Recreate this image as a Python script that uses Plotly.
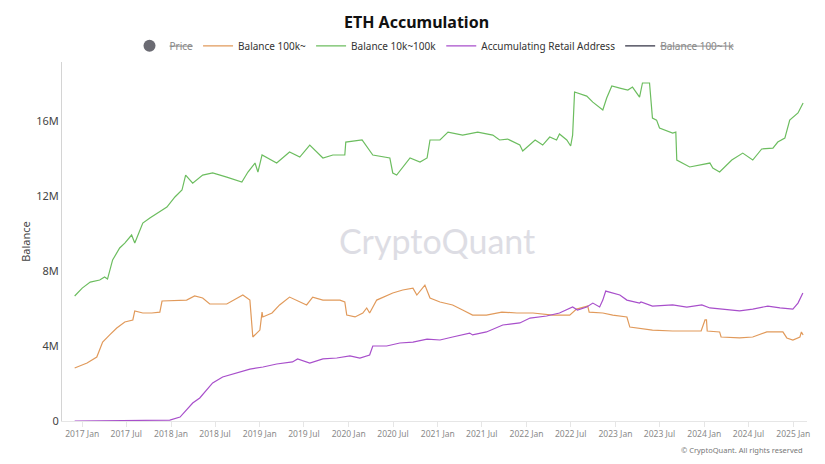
import plotly.graph_objects as go

# ---- data (values in millions) ----
green_dates = ["2016-12-01","2017-01-01","2017-02-03","2017-03-14","2017-04-03","2017-04-15","2017-05-06","2017-06-04","2017-06-25","2017-07-23","2017-08-05","2017-09-07","2017-10-06","2017-11-16","2017-12-15","2018-01-17","2018-02-15","2018-03-02","2018-03-31","2018-05-11","2018-06-21","2018-08-18","2018-10-19","2018-11-13","2018-12-12","2018-12-24","2019-01-10","2019-03-11","2019-05-03","2019-06-14","2019-07-25","2019-09-17","2019-10-28","2019-12-16","2019-12-20","2020-02-25","2020-04-09","2020-06-18","2020-06-30","2020-07-16","2020-09-09","2020-10-20","2020-11-18","2020-11-30","2021-01-10","2021-02-12","2021-04-13","2021-06-14","2021-08-15","2021-09-12","2021-10-15","2021-12-04","2021-12-16","2022-02-05","2022-03-08","2022-04-06","2022-05-04","2022-05-16","2022-06-15","2022-07-01","2022-07-09","2022-07-17","2022-09-05","2022-09-30","2022-11-10","2022-11-26","2022-12-17","2023-01-19","2023-02-21","2023-03-12","2023-04-10","2023-04-22","2023-05-21","2023-06-02","2023-06-19","2023-07-01","2023-08-24","2023-09-06","2023-09-10","2023-11-02","2023-12-13","2024-01-24","2024-02-05","2024-03-04","2024-04-23","2024-06-07","2024-07-18","2024-08-24","2024-10-09","2024-10-29","2024-11-27","2024-12-17","2025-01-20","2025-02-10"]
green_vals = [6.67,7.09,7.41,7.52,7.68,7.57,8.59,9.23,9.49,9.92,9.49,10.56,10.83,11.15,11.41,11.95,12.32,13.12,12.69,13.12,13.23,13.01,12.75,13.28,13.76,13.28,14.19,13.76,14.35,14.08,14.72,14.03,14.19,14.19,14.88,14.99,14.19,14.03,13.23,13.12,14.03,13.81,14.03,14.99,14.99,15.41,15.25,15.41,15.25,14.99,15.04,14.72,14.40,14.99,14.72,15.15,14.99,15.31,14.99,14.67,15.25,17.55,17.33,17.01,16.59,17.23,17.87,17.76,17.65,17.81,17.28,18.03,18.03,16.16,16.05,15.63,15.36,15.41,13.92,13.55,13.65,13.76,13.49,13.28,13.92,14.29,13.92,14.51,14.56,14.88,15.09,16.05,16.43,16.96]

orange_dates = ["2016-12-01","2017-01-21","2017-03-02","2017-03-26","2017-04-24","2017-05-23","2017-06-25","2017-07-28","2017-08-05","2017-09-07","2017-10-14","2017-11-16","2017-11-25","2018-01-26","2018-03-06","2018-04-08","2018-05-11","2018-06-09","2018-08-18","2018-10-23","2018-11-21","2018-12-03","2018-12-19","2019-01-01","2019-01-10","2019-01-13","2019-02-20","2019-03-23","2019-05-03","2019-06-14","2019-07-12","2019-08-06","2019-09-17","2019-11-26","2019-12-16","2019-12-24","2020-01-27","2020-02-28","2020-03-15","2020-03-27","2020-04-25","2020-06-30","2020-08-10","2020-09-21","2020-10-07","2020-11-09","2020-11-30","2021-01-10","2021-03-03","2021-04-13","2021-05-24","2021-07-20","2021-09-21","2021-11-22","2022-01-27","2022-04-18","2022-06-27","2022-07-25","2022-09-09","2022-09-15","2022-11-10","2022-12-21","2023-02-17","2023-03-01","2023-06-02","2023-08-24","2023-12-01","2023-12-19","2024-01-04","2024-01-10","2024-01-13","2024-03-04","2024-03-10","2024-05-25","2024-07-18","2024-09-14","2024-11-19","2024-12-05","2024-12-30","2025-01-28","2025-02-03","2025-02-10"]
orange_vals = [2.83,3.09,3.41,4.21,4.59,4.96,5.28,5.39,5.87,5.76,5.76,5.81,6.40,6.45,6.45,6.67,6.56,6.24,6.24,6.72,6.45,4.48,4.69,4.85,5.81,5.55,5.76,6.19,6.61,6.35,6.19,6.61,6.45,6.45,6.35,5.65,5.55,5.76,6.03,5.76,6.45,6.83,6.99,7.09,6.72,7.25,6.56,6.35,6.19,5.92,5.65,5.65,5.81,5.76,5.76,5.65,5.65,5.97,6.13,5.81,5.76,5.65,5.55,5.01,4.85,4.80,4.80,4.80,5.39,5.39,4.80,4.75,4.48,4.43,4.48,4.75,4.75,4.43,4.32,4.48,4.75,4.59]

purple_dates = ["2016-12-01","2017-11-16","2017-12-27","2018-02-07","2018-03-06","2018-03-31","2018-04-29","2018-05-27","2018-06-21","2018-08-01","2018-09-28","2018-11-21","2019-01-14","2019-03-11","2019-05-15","2019-06-05","2019-07-25","2019-09-17","2019-11-13","2020-01-06","2020-02-16","2020-03-27","2020-04-09","2020-06-05","2020-07-29","2020-09-21","2020-11-18","2021-01-10","2021-03-03","2021-05-12","2021-05-24","2021-07-20","2021-09-25","2021-12-04","2022-01-15","2022-03-24","2022-05-16","2022-07-09","2022-07-29","2022-09-05","2022-09-30","2022-10-28","2022-11-10","2022-11-22","2023-01-19","2023-02-17","2023-04-10","2023-04-16","2023-06-02","2023-08-24","2023-10-21","2023-12-22","2024-01-24","2024-04-03","2024-05-25","2024-07-18","2024-09-18","2024-11-07","2024-12-30","2025-01-20","2025-02-09"]
purple_vals = [0.0,0.02,0.05,0.21,0.59,0.96,1.23,1.65,2.03,2.35,2.56,2.77,2.88,3.04,3.15,3.31,3.09,3.31,3.36,3.47,3.36,3.52,4.00,4.00,4.16,4.21,4.37,4.32,4.48,4.69,4.59,4.75,5.12,5.23,5.49,5.60,5.76,6.08,5.92,6.08,6.29,6.08,6.45,6.93,6.72,6.45,6.29,6.35,6.13,6.19,6.08,6.19,6.03,5.92,5.87,5.97,6.13,6.03,5.97,6.29,6.83]

y_tick_vals = [0, 4, 8, 12, 16]
y_tick_text = ["0", "4M", "8M", "12M", "16M"]

M = 1e6
fig = go.Figure()

fig.add_trace(go.Scatter(x=[None], y=[None], mode="markers",
                         name='<span style="text-decoration:line-through;color:#888;">Price</span>',
                         marker=dict(color="#6b6b73", size=12)))
fig.add_trace(go.Scatter(x=orange_dates, y=[v * M for v in orange_vals], mode="lines",
                         name="Balance 100k~", line=dict(color="#e19a5b", width=1.2)))
fig.add_trace(go.Scatter(x=green_dates, y=[v * M for v in green_vals], mode="lines",
                         name="Balance 10k~100k", line=dict(color="#6cbd5f", width=1.2)))
fig.add_trace(go.Scatter(x=purple_dates, y=[v * M for v in purple_vals], mode="lines",
                         name="Accumulating Retail Address", line=dict(color="#a84fcb", width=1.2)))
fig.add_trace(go.Scatter(x=[None], y=[None], mode="lines",
                         name='<span style="text-decoration:line-through;color:#888;">Balance 100~1k</span>',
                         line=dict(color="#333344", width=1.2)))

fig.update_layout(
    width=817, height=456,
    margin=dict(l=54, r=18, t=54, b=43),
    paper_bgcolor="white", plot_bgcolor="white",
    font=dict(family="Noto Sans, Open Sans, sans-serif", color="#333"),
    title=dict(text="<b>ETH Accumulation</b>", x=0.5, xanchor="center", y=0.9693, yanchor="middle",
               font=dict(size=16, color="#111")),
    showlegend=True,
    legend=dict(orientation="h", x=0.5, xanchor="center", y=1.045, yanchor="middle",
                font=dict(size=10, color="#333"), itemwidth=30, tracegroupgap=0,
                bgcolor="rgba(0,0,0,0)"),
    xaxis=dict(type="date", range=["2016-10-10", "2025-02-26"],
               tick0="2017-01-01", dtick="M6", tickformat="%Y %b",
               showgrid=False, showline=True, linecolor="#e6e6e6", linewidth=1,
               ticks="outside", ticklen=5, tickcolor="#e6e6e6",
               tickfont=dict(size=8.5, color="#8a8a8a"), zeroline=False),
    yaxis=dict(range=[0, 19.15 * M], tickvals=[v * M for v in y_tick_vals], ticktext=y_tick_text,
               showgrid=False, showline=True, linecolor="#d4d4d4", linewidth=1,
               ticks="", tickfont=dict(size=11, color="#444"), zeroline=False,
               title=dict(text="Balance", font=dict(size=11, color="#444"), standoff=3)),
    annotations=[
        dict(text="CryptoQuant", xref="paper", yref="paper", x=0.503, y=0.504,
             showarrow=False, font=dict(size=34, color="#dddde4", family="Lato, Noto Sans, sans-serif")),
        dict(text="© CryptoQuant. All rights reserved", xref="paper", yref="paper",
             x=0.997, y=-0.081, xanchor="right", yanchor="middle", showarrow=False,
             font=dict(size=7.5, color="#777")),
    ],
)

fig.write_html("out.html")
